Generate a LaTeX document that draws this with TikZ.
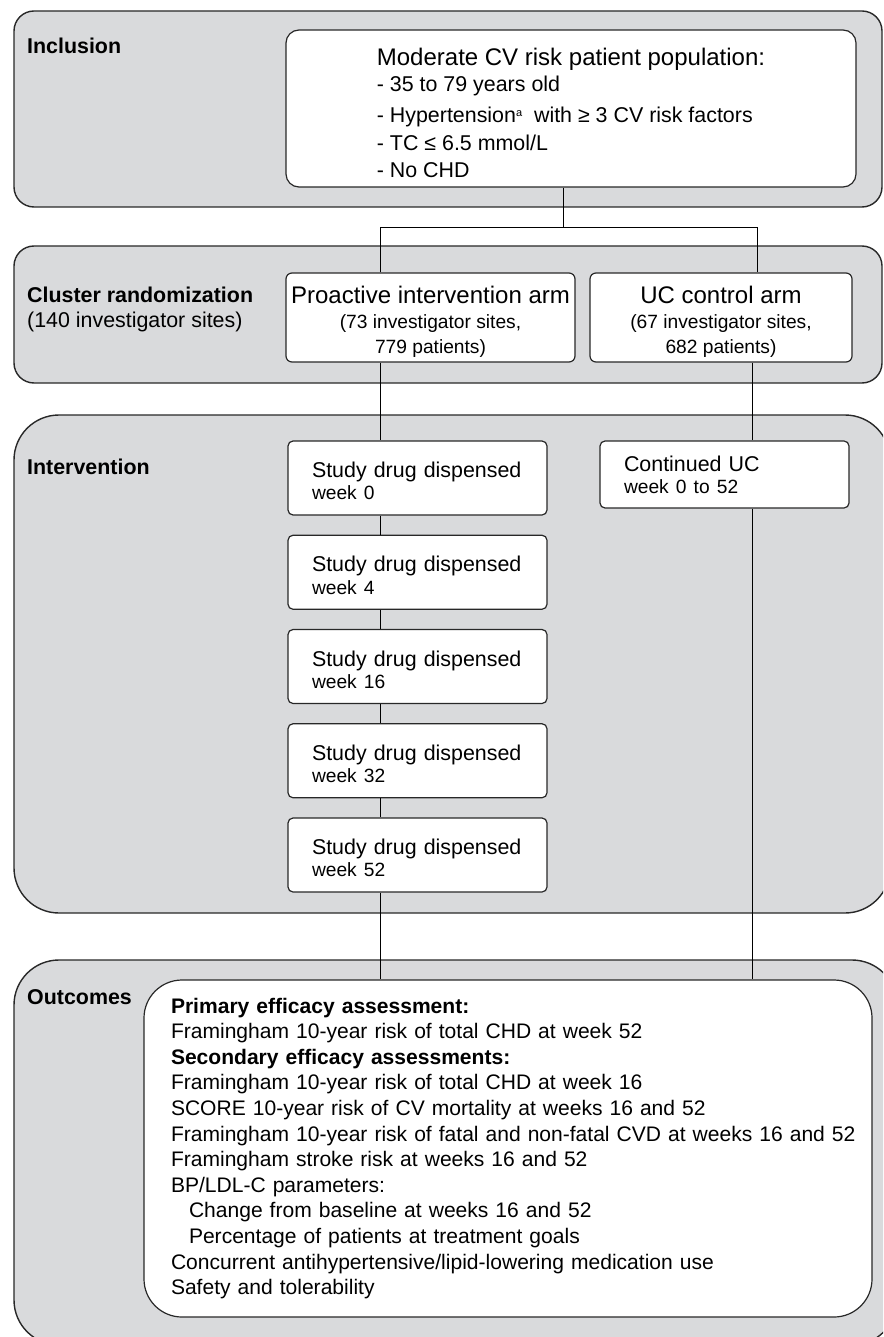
\documentclass[tikz,border=0pt]{standalone}
\usepackage{fontspec}
\setmainfont{Liberation Sans}
\definecolor{panelgray}{RGB}{217,218,220}
\definecolor{edgegray}{RGB}{40,40,40}

\begin{document}
\begin{tikzpicture}[x=1pt, y=-1pt, node distance=94.25pt,
  panel/.style = {draw=edgegray, fill=panelgray, line width=1.4pt},
  box/.style = {draw=edgegray, fill=white, line width=1.2pt},
  tag/.style = {anchor=west, align=left, inner sep=0pt, font=\fontsize{21.4}{25}\selectfont},
  armbox/.style = {box, rounded corners=6pt, minimum height=89pt, align=center, font=\fontsize{19.2}{25}\selectfont},
  studybox/.style = {box, rounded corners=5pt, minimum height=74pt, text width=211pt, inner xsep=24pt, align=left, font=\fontsize{21.4}{22.2}\selectfont},
  link/.style = {draw=black, line width=1pt}]
\useasboundingbox (0,0) rectangle (883,1337);
\clip (0,0) rectangle (883,1337);

% panels
\draw[panel, rounded corners=20pt] (14,11) rectangle (882,207);
\draw[panel, rounded corners=20pt] (14,246) rectangle (882,383);
\draw[panel, rounded corners=45pt] (14,415) rectangle (890,913);
\draw[panel, rounded corners=45pt] (14,960) rectangle (897,1345);

% row labels
\node[tag] (t1) at (27,46) {\textbf{Inclusion}};
\node[tag] (t2) at (27,309.6) {\textbf{Cluster randomization}\\(140 investigator sites)};
\node[tag] (t3) at (27,467) {\textbf{Intervention}};
\node[tag] (t4) at (27,997) {\textbf{Outcomes}};

% inclusion
\node[box, rounded corners=13pt, minimum width=570pt, minimum height=157pt, align=left,
  font=\fontsize{21.4}{28}\selectfont] (incl) at (571,108.5)
  {{\fontsize{24}{28}\selectfont\rule{0pt}{26.3pt}Moderate CV risk patient population:}\\[-2pt]
   - 35 to 79 years old\\[3pt]
   - Hypertension\raisebox{6pt}{\fontsize{11}{11}\selectfont a}\ \ with ≥ 3 CV risk factors\\
   - TC ≤ 6.5 mmol/L\\[-1pt]
   - No CHD};

% arms
\node[armbox, minimum width=289pt] (pro) at (430.5,317.5)
  {{\fontsize{24}{25}\selectfont\rule{0pt}{26.5pt}Proactive intervention arm}\\
   (73 investigator sites,\\ 779 patients)};
\node[armbox, minimum width=262pt] (uc) at (721,317.5)
  {{\fontsize{24}{25}\selectfont\rule{0pt}{26.5pt}UC control arm}\\
   (67 investigator sites,\\ 682 patients)};

% intervention
\node[studybox] (s1) at (417.5,478) {\rule{0pt}{21.7pt}Study drug dispensed\\{\fontsize{19.2}{22.2}\selectfont week 0}};
\node[studybox] (s2)[below of = s1] {\rule{0pt}{21.7pt}Study drug dispensed\\{\fontsize{19.2}{22.2}\selectfont week 4}};
\node[studybox] (s3)[below of = s2] {\rule{0pt}{21.7pt}Study drug dispensed\\{\fontsize{19.2}{22.2}\selectfont week 16}};
\node[studybox] (s4)[below of = s3] {\rule{0pt}{21.7pt}Study drug dispensed\\{\fontsize{19.2}{22.2}\selectfont week 32}};
\node[studybox] (s5)[below of = s4] {\rule{0pt}{21.7pt}Study drug dispensed\\{\fontsize{19.2}{22.2}\selectfont week 52}};
\node[studybox, minimum height=67pt, text width=201pt] (cont) at (724.5,474.5)
  {Continued UC\\{\fontsize{19.2}{22.2}\selectfont week 0 to 52}};

% outcomes
\node[box, rounded corners=38pt, minimum height=337pt, text width=674pt, inner xsep=27pt, align=left,
  font=\fontsize{21.05}{25.6}\selectfont] (outc) at (508,1148.5)
  {\textbf{Primary efficacy assessment:}\\
   Framingham 10-year risk of total CHD at week 52\\
   \textbf{Secondary efficacy assessments:}\\
   Framingham 10-year risk of total CHD at week 16\\
   SCORE 10-year risk of CV mortality at weeks 16 and 52\\
   \mbox{Framingham 10-year risk of fatal and non-fatal CVD at weeks 16 and 52}\\
   Framingham stroke risk at weeks 16 and 52\\
   BP/LDL-C parameters:\\
   \hspace*{18pt}Change from baseline at weeks 16 and 52\\
   \hspace*{18pt}Percentage of patients at treatment goals\\
   Concurrent antihypertensive/lipid-lowering medication use\\
   Safety and tolerability};

% connectors
\coordinate (split) at (563,228);
\coordinate (lcol) at (380,228);
\coordinate (rcol) at (757,228);
\coordinate (rlow) at (752,600);
\draw[link] (incl.south -| split) -- (split);
\draw[link] (pro.north -| lcol) -- (lcol) -- (rcol) -- (uc.north -| rcol);
\draw[link] (pro.south -| lcol) -- (s1.north -| lcol);
\draw[link] (s1.south -| lcol) -- (s2.north -| lcol);
\draw[link] (s2.south -| lcol) -- (s3.north -| lcol);
\draw[link] (s3.south -| lcol) -- (s4.north -| lcol);
\draw[link] (s4.south -| lcol) -- (s5.north -| lcol);
\draw[link] (s5.south -| lcol) -- (outc.north -| lcol);
\draw[link] (uc.south -| rlow) -- (cont.north -| rlow);
\draw[link] (cont.south -| rlow) -- (outc.north -| rlow);
\end{tikzpicture}
\end{document}
